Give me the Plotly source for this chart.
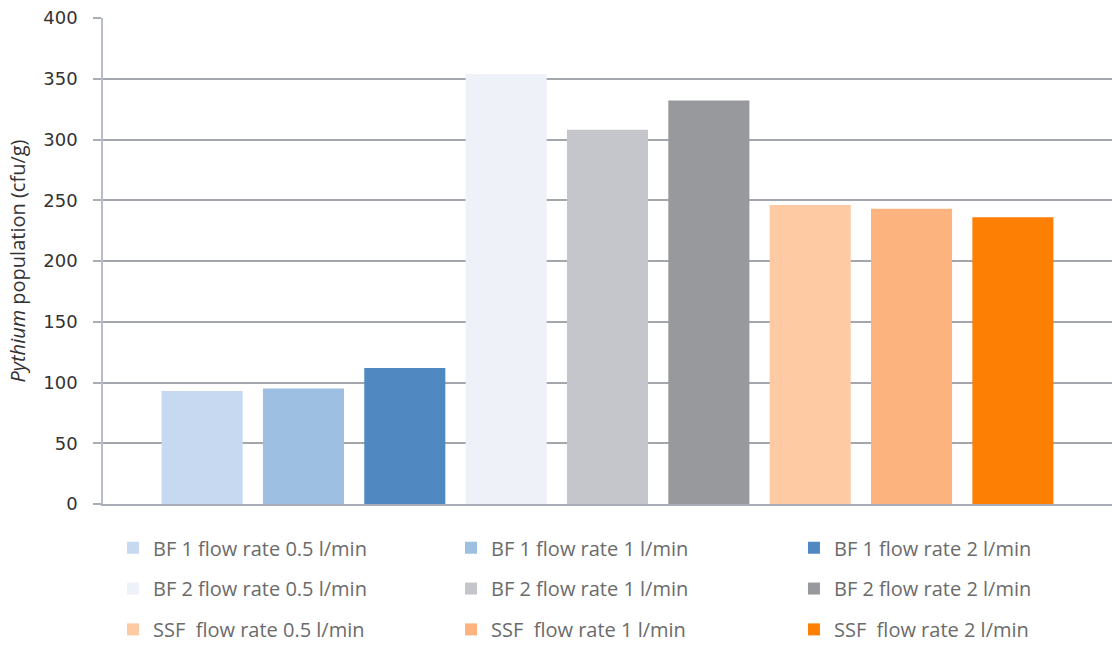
import plotly.graph_objects as go

series_names = [
    "BF 1 flow rate 0.5 l/min", "BF 1 flow rate 1 l/min", "BF 1 flow rate 2 l/min",
    "BF 2 flow rate 0.5 l/min", "BF 2 flow rate 1 l/min", "BF 2 flow rate 2 l/min",
    "SSF  flow rate 0.5 l/min", "SSF  flow rate 1 l/min", "SSF  flow rate 2 l/min",
]
series_values = [93, 95, 112, 354, 308, 332, 246, 243, 236]
series_colors = [
    "#c6d9f0", "#9dc0e2", "#5089c2",
    "#eff1f8", "#c4c6cb", "#98999c",
    "#fdcaa3", "#fcb37e", "#fd8005",
]
y_ticks = [0, 50, 100, 150, 200, 250, 300, 350, 400]

# legend grid: 3 columns x 3 rows (paper coordinates)
legend_cols = [0.0099, 0.3449, 0.6848]
legend_rows = [-0.090, -0.174, -0.258]

fig = go.Figure()
layout_legends = {}
for i, (name, val, col) in enumerate(zip(series_names, series_values, series_colors)):
    lg = "legend" if i == 0 else f"legend{i + 1}"
    fig.add_trace(go.Bar(
        x=[""], y=[val], name=name, marker=dict(color=col, line=dict(width=0)),
        legend=lg,
    ))
    layout_legends[lg] = dict(
        x=legend_cols[i % 3], y=legend_rows[i // 3],
        orientation="h", xanchor="left", yanchor="middle",
        font=dict(family="Open Sans", size=20, color="#6b6b6b"),
        bgcolor="rgba(0,0,0,0)", itemclick=False, itemdoubleclick=False,
    )

fig.update_layout(
    width=1112, height=649,
    margin=dict(l=103, r=0, t=18, b=143),
    paper_bgcolor="white", plot_bgcolor="white",
    barmode="group", bargap=0.096, bargroupgap=0.2,
    showlegend=True,
    xaxis=dict(showticklabels=False, showline=True, linecolor="#a9adb8", linewidth=1.5,
               ticks="", showgrid=False, zeroline=False),
    yaxis=dict(
        range=[0, 400], tickvals=y_ticks, ticktext=[str(v) for v in y_ticks],
        ticks="outside", ticklen=8, tickcolor="#a9adb8", tickwidth=1.5,
        ticklabelstandoff=12,
        showline=True, linecolor="#b8bcc8", linewidth=1.5,
        showgrid=True, gridcolor="#a4a6ad", gridwidth=1.5,
        zeroline=False,
        tickfont=dict(family="DejaVu Sans", size=18, color="#333333"),
        title=dict(text="<i>Pythium</i> population (cfu/g)",
                   font=dict(family="Open Sans", size=20, color="#333333"),
                   standoff=12),
    ),
    **layout_legends,
)

fig.write_html("out.html")
